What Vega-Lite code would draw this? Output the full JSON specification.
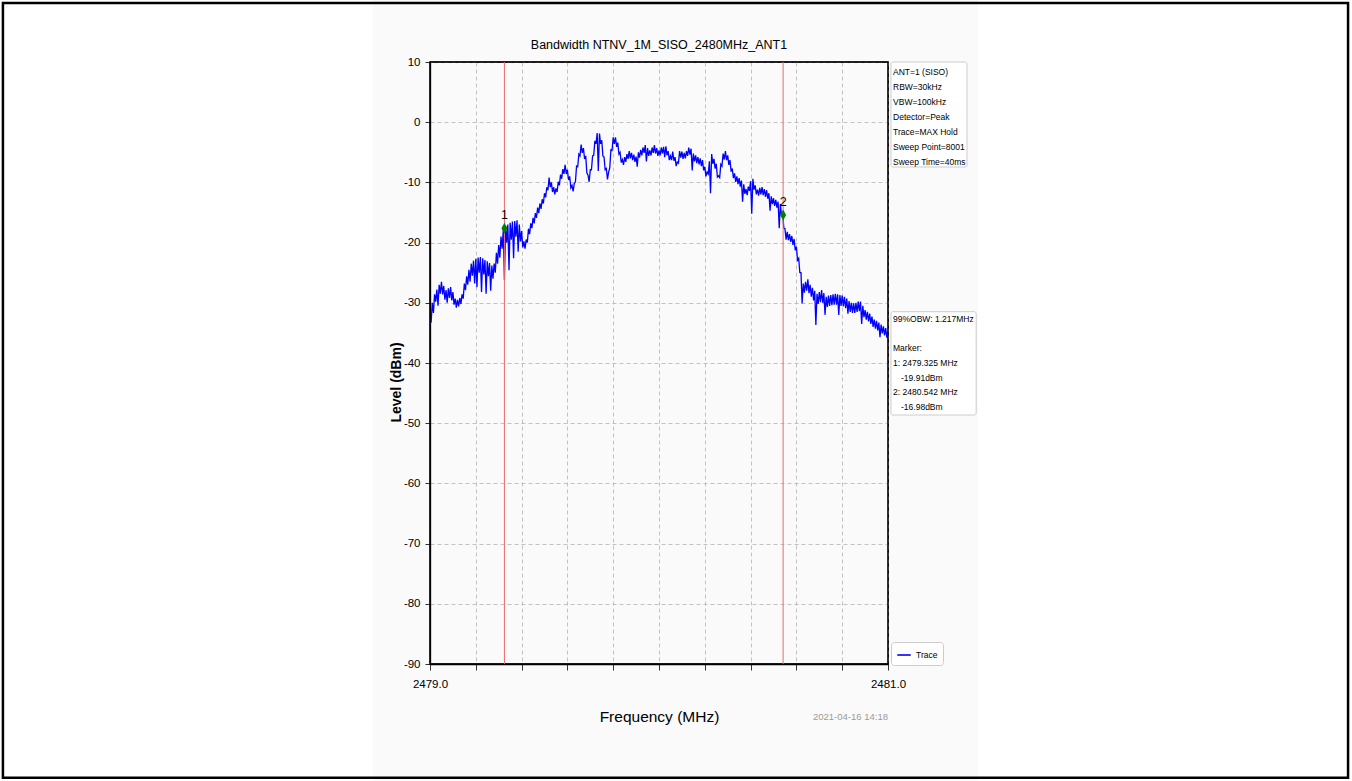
{
  "$schema": "https://vega.github.io/schema/vega-lite/v6.json",
  "width": 458,
  "height": 602,
  "autosize": {"type": "none"},
  "padding": {"left": 430, "top": 62, "right": 464, "bottom": 117},
  "background": "#fafafa",
  "config": {
    "view": {"stroke": "#000000", "strokeWidth": 1.3, "fill": "#fafafa"},
    "axis": {
      "gridColor": "#b4b4b4",
      "gridDash": [4, 3],
      "gridWidth": 0.8,
      "domainColor": "#000000",
      "domainWidth": 1.3,
      "tickColor": "#333333",
      "tickSize": 5,
      "labelFont": "Liberation Sans, Arial, sans-serif",
      "labelFontSize": 11.5,
      "labelColor": "#000000",
      "titleColor": "#000000"
    }
  },
  "datasets": {
    "trace": [
      {"f":2479.000,"v":-33.4},{"f":2479.005,"v":-33.2},{"f":2479.010,"v":-30.0},{"f":2479.015,"v":-31.7},{"f":2479.020,"v":-28.6},{"f":2479.025,"v":-29.8},
      {"f":2479.030,"v":-27.8},{"f":2479.035,"v":-30.5},{"f":2479.040,"v":-27.0},{"f":2479.045,"v":-28.5},{"f":2479.050,"v":-26.5},{"f":2479.055,"v":-28.6},
      {"f":2479.060,"v":-27.2},{"f":2479.065,"v":-29.5},{"f":2479.070,"v":-27.9},{"f":2479.075,"v":-30.0},{"f":2479.080,"v":-27.6},{"f":2479.085,"v":-29.2},
      {"f":2479.090,"v":-27.4},{"f":2479.095,"v":-29.6},{"f":2479.100,"v":-28.2},{"f":2479.105,"v":-30.3},{"f":2479.110,"v":-29.3},{"f":2479.115,"v":-30.8},
      {"f":2479.120,"v":-29.5},{"f":2479.125,"v":-30.6},{"f":2479.130,"v":-29.2},{"f":2479.135,"v":-30.2},{"f":2479.140,"v":-28.6},{"f":2479.145,"v":-29.3},
      {"f":2479.150,"v":-26.8},{"f":2479.155,"v":-27.9},{"f":2479.160,"v":-25.6},{"f":2479.165,"v":-27.0},{"f":2479.170,"v":-24.5},{"f":2479.175,"v":-26.5},
      {"f":2479.180,"v":-23.5},{"f":2479.185,"v":-25.5},{"f":2479.190,"v":-23.0},{"f":2479.195,"v":-26.8},{"f":2479.200,"v":-22.7},{"f":2479.205,"v":-27.4},
      {"f":2479.210,"v":-22.5},{"f":2479.215,"v":-25.0},{"f":2479.220,"v":-22.4},{"f":2479.225,"v":-28.2},{"f":2479.230,"v":-22.6},{"f":2479.235,"v":-25.3},
      {"f":2479.240,"v":-22.9},{"f":2479.245,"v":-28.5},{"f":2479.250,"v":-23.1},{"f":2479.255,"v":-25.6},{"f":2479.260,"v":-23.4},{"f":2479.265,"v":-28.0},
      {"f":2479.270,"v":-23.8},{"f":2479.275,"v":-26.0},{"f":2479.280,"v":-23.5},{"f":2479.285,"v":-25.0},{"f":2479.290,"v":-21.7},{"f":2479.295,"v":-23.5},
      {"f":2479.300,"v":-20.4},{"f":2479.305,"v":-22.5},{"f":2479.310,"v":-19.0},{"f":2479.315,"v":-21.0},{"f":2479.320,"v":-17.9},{"f":2479.325,"v":-26.2},
      {"f":2479.330,"v":-17.2},{"f":2479.335,"v":-20.0},{"f":2479.340,"v":-17.0},{"f":2479.345,"v":-24.6},{"f":2479.350,"v":-16.7},{"f":2479.355,"v":-19.5},
      {"f":2479.360,"v":-16.5},{"f":2479.365,"v":-22.6},{"f":2479.370,"v":-16.4},{"f":2479.375,"v":-19.0},{"f":2479.380,"v":-16.3},{"f":2479.385,"v":-21.5},
      {"f":2479.390,"v":-17.0},{"f":2479.395,"v":-19.8},{"f":2479.400,"v":-18.1},{"f":2479.405,"v":-20.8},{"f":2479.410,"v":-19.8},{"f":2479.415,"v":-21.0},
      {"f":2479.420,"v":-19.5},{"f":2479.425,"v":-20.0},{"f":2479.430,"v":-17.7},{"f":2479.435,"v":-18.6},{"f":2479.440,"v":-16.8},{"f":2479.445,"v":-17.6},
      {"f":2479.450,"v":-15.9},{"f":2479.455,"v":-16.8},{"f":2479.460,"v":-15.1},{"f":2479.465,"v":-15.9},{"f":2479.470,"v":-14.2},{"f":2479.475,"v":-15.1},
      {"f":2479.480,"v":-13.5},{"f":2479.485,"v":-14.4},{"f":2479.490,"v":-12.8},{"f":2479.495,"v":-13.5},{"f":2479.500,"v":-11.8},{"f":2479.505,"v":-12.5},
      {"f":2479.510,"v":-10.8},{"f":2479.515,"v":-11.3},{"f":2479.520,"v":-9.2},{"f":2479.525,"v":-10.8},{"f":2479.530,"v":-10.0},{"f":2479.535,"v":-11.6},
      {"f":2479.540,"v":-10.8},{"f":2479.545,"v":-12.0},{"f":2479.550,"v":-11.0},{"f":2479.555,"v":-11.6},{"f":2479.560,"v":-9.9},{"f":2479.565,"v":-10.5},
      {"f":2479.570,"v":-8.7},{"f":2479.575,"v":-9.4},{"f":2479.580,"v":-7.8},{"f":2479.585,"v":-8.6},{"f":2479.590,"v":-7.1},{"f":2479.595,"v":-8.6},
      {"f":2479.600,"v":-7.9},{"f":2479.605,"v":-9.6},{"f":2479.610,"v":-9.0},{"f":2479.615,"v":-10.9},{"f":2479.620,"v":-10.5},{"f":2479.625,"v":-11.5},
      {"f":2479.630,"v":-10.2},{"f":2479.635,"v":-9.9},{"f":2479.640,"v":-7.3},{"f":2479.645,"v":-7.4},{"f":2479.650,"v":-5.3},{"f":2479.655,"v":-5.6},
      {"f":2479.660,"v":-3.7},{"f":2479.665,"v":-5.1},{"f":2479.670,"v":-4.3},{"f":2479.675,"v":-6.1},{"f":2479.680,"v":-5.6},{"f":2479.685,"v":-8.4},
      {"f":2479.690,"v":-8.8},{"f":2479.695,"v":-9.9},{"f":2479.700,"v":-7.9},{"f":2479.705,"v":-7.9},{"f":2479.710,"v":-5.6},{"f":2479.715,"v":-5.5},
      {"f":2479.720,"v":-3.1},{"f":2479.725,"v":-3.6},{"f":2479.730,"v":-1.8},{"f":2479.735,"v":-8.1},{"f":2479.740,"v":-1.9},{"f":2479.745,"v":-3.6},
      {"f":2479.750,"v":-3.0},{"f":2479.755,"v":-5.6},{"f":2479.760,"v":-5.8},{"f":2479.765,"v":-7.9},{"f":2479.770,"v":-7.7},{"f":2479.775,"v":-9.5},
      {"f":2479.780,"v":-8.3},{"f":2479.785,"v":-7.6},{"f":2479.790,"v":-4.6},{"f":2479.795,"v":-4.7},{"f":2479.800,"v":-2.5},{"f":2479.805,"v":-3.6},
      {"f":2479.810,"v":-2.5},{"f":2479.815,"v":-4.1},{"f":2479.820,"v":-3.4},{"f":2479.825,"v":-5.3},{"f":2479.830,"v":-5.0},{"f":2479.835,"v":-6.7},
      {"f":2479.840,"v":-6.2},{"f":2479.845,"v":-7.1},{"f":2479.850,"v":-5.8},{"f":2479.855,"v":-6.6},{"f":2479.860,"v":-5.3},{"f":2479.865,"v":-6.1},
      {"f":2479.870,"v":-4.8},{"f":2479.875,"v":-6.0},{"f":2479.880,"v":-5.1},{"f":2479.885,"v":-6.3},{"f":2479.890,"v":-5.4},{"f":2479.895,"v":-6.6},
      {"f":2479.900,"v":-5.7},{"f":2479.905,"v":-7.4},{"f":2479.910,"v":-5.0},{"f":2479.915,"v":-5.9},{"f":2479.920,"v":-4.6},{"f":2479.925,"v":-5.5},
      {"f":2479.930,"v":-4.2},{"f":2479.935,"v":-5.1},{"f":2479.940,"v":-3.8},{"f":2479.945,"v":-6.5},{"f":2479.950,"v":-4.3},{"f":2479.955,"v":-5.6},
      {"f":2479.960,"v":-4.7},{"f":2479.965,"v":-5.5},{"f":2479.970,"v":-4.2},{"f":2479.975,"v":-5.1},{"f":2479.980,"v":-3.8},{"f":2479.985,"v":-5.2},
      {"f":2479.990,"v":-4.3},{"f":2479.995,"v":-5.6},{"f":2480.000,"v":-4.7},{"f":2480.005,"v":-5.5},{"f":2480.010,"v":-4.2},{"f":2480.015,"v":-5.2},
      {"f":2480.020,"v":-4.1},{"f":2480.025,"v":-5.8},{"f":2480.030,"v":-4.0},{"f":2480.035,"v":-5.5},{"f":2480.040,"v":-4.8},{"f":2480.045,"v":-6.3},
      {"f":2480.050,"v":-5.6},{"f":2480.055,"v":-6.3},{"f":2480.060,"v":-4.9},{"f":2480.065,"v":-6.4},{"f":2480.070,"v":-5.8},{"f":2480.075,"v":-7.3},
      {"f":2480.080,"v":-6.6},{"f":2480.085,"v":-6.8},{"f":2480.090,"v":-4.8},{"f":2480.095,"v":-5.9},{"f":2480.100,"v":-4.9},{"f":2480.105,"v":-6.1},
      {"f":2480.110,"v":-5.1},{"f":2480.115,"v":-6.0},{"f":2480.120,"v":-4.8},{"f":2480.125,"v":-5.6},{"f":2480.130,"v":-4.2},{"f":2480.135,"v":-5.4},
      {"f":2480.140,"v":-4.4},{"f":2480.145,"v":-8.0},{"f":2480.150,"v":-5.2},{"f":2480.155,"v":-6.5},{"f":2480.160,"v":-5.5},{"f":2480.165,"v":-6.8},
      {"f":2480.170,"v":-5.8},{"f":2480.175,"v":-7.0},{"f":2480.180,"v":-6.0},{"f":2480.185,"v":-7.3},{"f":2480.190,"v":-6.3},{"f":2480.195,"v":-8.0},
      {"f":2480.200,"v":-7.4},{"f":2480.205,"v":-9.0},{"f":2480.210,"v":-8.3},{"f":2480.215,"v":-8.6},{"f":2480.220,"v":-6.5},{"f":2480.225,"v":-11.8},
      {"f":2480.230,"v":-5.3},{"f":2480.235,"v":-6.9},{"f":2480.240,"v":-6.1},{"f":2480.245,"v":-7.7},{"f":2480.250,"v":-6.9},{"f":2480.255,"v":-9.1},
      {"f":2480.260,"v":-8.9},{"f":2480.265,"v":-9.2},{"f":2480.270,"v":-7.0},{"f":2480.275,"v":-7.3},{"f":2480.280,"v":-5.2},{"f":2480.285,"v":-6.2},
      {"f":2480.290,"v":-4.8},{"f":2480.295,"v":-6.3},{"f":2480.300,"v":-5.5},{"f":2480.305,"v":-7.1},{"f":2480.310,"v":-6.3},{"f":2480.315,"v":-8.2},
      {"f":2480.320,"v":-7.7},{"f":2480.325,"v":-9.3},{"f":2480.330,"v":-8.5},{"f":2480.335,"v":-9.9},{"f":2480.340,"v":-9.0},{"f":2480.345,"v":-10.3},
      {"f":2480.350,"v":-9.3},{"f":2480.355,"v":-10.7},{"f":2480.360,"v":-9.7},{"f":2480.365,"v":-13.2},{"f":2480.370,"v":-10.3},{"f":2480.375,"v":-11.9},
      {"f":2480.380,"v":-11.1},{"f":2480.385,"v":-12.1},{"f":2480.390,"v":-10.7},{"f":2480.395,"v":-11.4},{"f":2480.400,"v":-9.8},{"f":2480.405,"v":-15.2},
      {"f":2480.410,"v":-9.4},{"f":2480.415,"v":-11.2},{"f":2480.420,"v":-10.5},{"f":2480.425,"v":-12.0},{"f":2480.430,"v":-11.2},{"f":2480.435,"v":-12.2},
      {"f":2480.440,"v":-10.9},{"f":2480.445,"v":-12.0},{"f":2480.450,"v":-10.8},{"f":2480.455,"v":-12.1},{"f":2480.460,"v":-11.1},{"f":2480.465,"v":-12.4},
      {"f":2480.470,"v":-11.3},{"f":2480.475,"v":-12.7},{"f":2480.480,"v":-11.8},{"f":2480.485,"v":-14.7},{"f":2480.490,"v":-12.3},{"f":2480.495,"v":-13.6},
      {"f":2480.500,"v":-12.6},{"f":2480.505,"v":-13.9},{"f":2480.510,"v":-12.9},{"f":2480.515,"v":-14.2},{"f":2480.520,"v":-13.2},{"f":2480.525,"v":-17.6},
      {"f":2480.530,"v":-13.6},{"f":2480.535,"v":-15.5},{"f":2480.540,"v":-15.0},{"f":2480.545,"v":-17.6},{"f":2480.550,"v":-17.7},{"f":2480.555,"v":-19.5},
      {"f":2480.560,"v":-18.2},{"f":2480.565,"v":-19.6},{"f":2480.570,"v":-18.6},{"f":2480.575,"v":-19.9},{"f":2480.580,"v":-18.9},{"f":2480.585,"v":-20.4},
      {"f":2480.590,"v":-19.4},{"f":2480.595,"v":-21.3},{"f":2480.600,"v":-20.7},{"f":2480.605,"v":-22.9},{"f":2480.610,"v":-22.6},{"f":2480.615,"v":-25.0},
      {"f":2480.620,"v":-25.0},{"f":2480.625,"v":-30.1},{"f":2480.630,"v":-26.8},{"f":2480.635,"v":-28.3},{"f":2480.640,"v":-26.5},{"f":2480.645,"v":-28.0},
      {"f":2480.650,"v":-26.1},{"f":2480.655,"v":-28.4},{"f":2480.660,"v":-27.0},{"f":2480.665,"v":-29.0},{"f":2480.670,"v":-27.5},{"f":2480.675,"v":-29.6},
      {"f":2480.680,"v":-28.0},{"f":2480.685,"v":-33.7},{"f":2480.690,"v":-28.5},{"f":2480.695,"v":-30.2},{"f":2480.700,"v":-28.2},{"f":2480.705,"v":-29.9},
      {"f":2480.710,"v":-27.9},{"f":2480.715,"v":-30.0},{"f":2480.720,"v":-28.4},{"f":2480.725,"v":-32.0},{"f":2480.730,"v":-29.0},{"f":2480.735,"v":-30.7},
      {"f":2480.740,"v":-28.8},{"f":2480.745,"v":-30.5},{"f":2480.750,"v":-28.7},{"f":2480.755,"v":-30.4},{"f":2480.760,"v":-28.6},{"f":2480.765,"v":-30.3},
      {"f":2480.770,"v":-28.5},{"f":2480.775,"v":-30.3},{"f":2480.780,"v":-28.6},{"f":2480.785,"v":-32.0},{"f":2480.790,"v":-28.7},{"f":2480.795,"v":-30.5},
      {"f":2480.800,"v":-28.8},{"f":2480.805,"v":-30.6},{"f":2480.810,"v":-29.0},{"f":2480.815,"v":-30.9},{"f":2480.820,"v":-29.3},{"f":2480.825,"v":-31.8},
      {"f":2480.830,"v":-29.7},{"f":2480.835,"v":-31.5},{"f":2480.840,"v":-30.0},{"f":2480.845,"v":-31.7},{"f":2480.850,"v":-30.1},{"f":2480.855,"v":-31.7},
      {"f":2480.860,"v":-30.0},{"f":2480.865,"v":-31.5},{"f":2480.870,"v":-29.8},{"f":2480.875,"v":-31.4},{"f":2480.880,"v":-29.8},{"f":2480.885,"v":-33.5},
      {"f":2480.890,"v":-30.5},{"f":2480.895,"v":-32.4},{"f":2480.900,"v":-31.2},{"f":2480.905,"v":-32.8},{"f":2480.910,"v":-31.5},{"f":2480.915,"v":-33.1},
      {"f":2480.920,"v":-31.8},{"f":2480.925,"v":-33.5},{"f":2480.930,"v":-32.3},{"f":2480.935,"v":-34.0},{"f":2480.940,"v":-32.8},{"f":2480.945,"v":-34.3},
      {"f":2480.950,"v":-33.0},{"f":2480.955,"v":-34.6},{"f":2480.960,"v":-33.3},{"f":2480.965,"v":-35.7},{"f":2480.970,"v":-33.6},{"f":2480.975,"v":-35.1},
      {"f":2480.980,"v":-33.9},{"f":2480.985,"v":-35.4},{"f":2480.990,"v":-34.2},{"f":2480.995,"v":-35.8},{"f":2481.000,"v":-34.8}
    ],
    "markers": [
      {"m": "1", "f": 2479.325, "v": -17.6},
      {"m": "2", "f": 2480.542, "v": -15.4}
    ],
    "one": [{}]
  },
  "layer": [
    {
      "data": {"name": "trace"},
      "mark": {"type": "line", "strokeWidth": 1.3, "clip": true},
      "encoding": {
        "x": {
          "field": "f", "type": "quantitative",
          "scale": {"domain": [2479, 2481], "nice": false, "zero": false},
          "axis": {
            "values": [2479, 2479.2, 2479.4, 2479.6, 2479.8, 2480, 2480.2, 2480.4, 2480.6, 2480.8, 2481],
            "labelExpr": "datum.value == 2479 || datum.value == 2481 ? format(datum.value, '.1f') : ''",
            "labelFlush": false,
            "labelPadding": 8,
            "tickSize": 6,
            "title": "Frequency (MHz)",
            "titleFont": "Liberation Sans, Arial, sans-serif",
            "titleFontSize": 15.5,
            "titleFontWeight": "normal",
            "titleY": 52,
            "titleBaseline": "middle"
          }
        },
        "y": {
          "field": "v", "type": "quantitative",
          "scale": {"domain": [-90, 10], "nice": false, "zero": false},
          "axis": {
            "values": [-90, -80, -70, -60, -50, -40, -30, -20, -10, 0, 10],
            "labelExpr": "'' + datum.value",
            "labelFlush": false,
            "labelPadding": 5,
            "title": "Level (dBm)",
            "titleFont": "Liberation Sans, Arial, sans-serif",
            "titleFontSize": 14,
            "titleFontWeight": "bold",
            "titleX": -34,
            "titleY": 320,
            "titleAngle": -90,
            "titleAlign": "center",
            "titleBaseline": "middle"
          }
        },
        "color": {
          "datum": "Trace", "type": "nominal",
          "scale": {"range": ["#0000ff"]},
          "legend": {
            "orient": "none", "legendX": 461, "legendY": 580,
            "title": null,
            "symbolType": "stroke", "symbolStrokeWidth": 1.6, "symbolSize": 180,
            "labelFont": "Liberation Sans, Arial, sans-serif",
            "labelFontSize": 8.5, "labelColor": "#000000",
            "strokeColor": "#cccccc", "fillColor": "#ffffff",
            "padding": 5, "cornerRadius": 3
          }
        }
      }
    },
    {
      "data": {"name": "one"},
      "mark": {"type": "rect", "fill": "#ffffff", "clip": false},
      "encoding": {
        "x": {"datum": 2476.0, "type": "quantitative"},
        "x2": {"datum": 2478.751},
        "y": {"datum": 30, "type": "quantitative"},
        "y2": {"datum": -120}
      }
    },
    {
      "data": {"name": "one"},
      "mark": {"type": "rect", "fill": "#ffffff", "clip": false},
      "encoding": {
        "x": {"datum": 2481.393, "type": "quantitative"},
        "x2": {"datum": 2484.5},
        "y": {"datum": 30, "type": "quantitative"},
        "y2": {"datum": -120}
      }
    },
    {
      "data": {"name": "one"},
      "mark": {"type": "rect", "filled": false, "stroke": "#000000", "strokeWidth": 2.5, "clip": false},
      "encoding": {
        "x": {"datum": 2477.135, "type": "quantitative"},
        "x2": {"datum": 2483.009},
        "y": {"datum": 19.8, "type": "quantitative"},
        "y2": {"datum": -108.9}
      }
    },
    {
      "data": {"name": "one"},
      "mark": {"type": "rect", "filled": false, "stroke": "#000000", "strokeWidth": 1.3, "clip": false},
      "encoding": {
        "x": {"datum": 2479.0, "type": "quantitative"},
        "x2": {"datum": 2481.0},
        "y": {"datum": 10, "type": "quantitative"},
        "y2": {"datum": -90}
      }
    },
    {
      "data": {"values": [{"text": "Bandwidth NTNV_1M_SISO_2480MHz_ANT1"}]},
      "mark": {"type": "text", "align": "center", "baseline": "middle", "fontSize": 12.5, "font": "Liberation Sans, Arial, sans-serif", "color": "#000000", "clip": false},
      "encoding": {
        "x": {"datum": 2480.0, "type": "quantitative"},
        "y": {"datum": 12.8, "type": "quantitative"},
        "text": {"field": "text"}
      }
    },
    {
      "data": {"name": "markers"},
      "mark": {"type": "rule", "color": "#ee6a6a", "strokeWidth": 1},
      "encoding": {
        "x": {"field": "f", "type": "quantitative"}
      }
    },
    {
      "data": {"name": "markers"},
      "mark": {"type": "point", "shape": "M0,-1L0.55,0L0,1L-0.55,0Z", "filled": true, "color": "#008000", "size": 120, "opacity": 1},
      "encoding": {
        "x": {"field": "f", "type": "quantitative"},
        "y": {"field": "v", "type": "quantitative"}
      }
    },
    {
      "data": {"name": "markers"},
      "mark": {"type": "text", "fontSize": 12.5, "font": "Liberation Sans, Arial, sans-serif", "color": "#000000", "dy": -13, "baseline": "middle", "align": "center"},
      "encoding": {
        "x": {"field": "f", "type": "quantitative"},
        "y": {"field": "v", "type": "quantitative"},
        "text": {"field": "m"}
      }
    },
    {
      "data": {"name": "one"},
      "mark": {"type": "rect", "fill": "#ffffff", "stroke": "#cccccc", "strokeWidth": 1, "cornerRadius": 2, "clip": false},
      "encoding": {
        "x": {"datum": 2481.013, "type": "quantitative"},
        "x2": {"datum": 2481.345},
        "y": {"datum": 10, "type": "quantitative"},
        "y2": {"datum": -7.44}
      }
    },
    {
      "data": {"values": [{"text": "ANT=1 (SISO)\nRBW=30kHz\nVBW=100kHz\nDetector=Peak\nTrace=MAX Hold\nSweep Point=8001\nSweep Time=40ms"}]},
      "mark": {"type": "text", "align": "left", "baseline": "top", "lineBreak": "\n", "lineHeight": 15, "fontSize": 8.5, "font": "Liberation Sans, Arial, sans-serif", "color": "#000000", "clip": false},
      "encoding": {
        "x": {"datum": 2481.022, "type": "quantitative"},
        "y": {"datum": 9.0, "type": "quantitative"},
        "text": {"field": "text"}
      }
    },
    {
      "data": {"name": "one"},
      "mark": {"type": "rect", "fill": "#ffffff", "stroke": "#cccccc", "strokeWidth": 1, "cornerRadius": 2, "clip": false},
      "encoding": {
        "x": {"datum": 2481.013, "type": "quantitative"},
        "x2": {"datum": 2481.385},
        "y": {"datum": -31.48, "type": "quantitative"},
        "y2": {"datum": -48.64}
      }
    },
    {
      "data": {"values": [{"text": "99%OBW: 1.217MHz"}]},
      "mark": {"type": "text", "align": "left", "baseline": "middle", "fontSize": 8.5, "font": "Liberation Sans, Arial, sans-serif", "color": "#000000", "clip": false},
      "encoding": {
        "x": {"datum": 2481.022, "type": "quantitative"},
        "y": {"datum": -32.7, "type": "quantitative"},
        "text": {"field": "text"}
      }
    },
    {
      "data": {"values": [{"text": "Marker:"}]},
      "mark": {"type": "text", "align": "left", "baseline": "middle", "fontSize": 8.5, "font": "Liberation Sans, Arial, sans-serif", "color": "#000000", "clip": false},
      "encoding": {
        "x": {"datum": 2481.022, "type": "quantitative"},
        "y": {"datum": -37.5, "type": "quantitative"},
        "text": {"field": "text"}
      }
    },
    {
      "data": {"values": [{"text": "1: 2479.325 MHz"}]},
      "mark": {"type": "text", "align": "left", "baseline": "middle", "fontSize": 8.5, "font": "Liberation Sans, Arial, sans-serif", "color": "#000000", "clip": false},
      "encoding": {
        "x": {"datum": 2481.022, "type": "quantitative"},
        "y": {"datum": -40.0, "type": "quantitative"},
        "text": {"field": "text"}
      }
    },
    {
      "data": {"values": [{"text": "-19.91dBm"}]},
      "mark": {"type": "text", "align": "left", "baseline": "middle", "fontSize": 8.5, "font": "Liberation Sans, Arial, sans-serif", "color": "#000000", "dx": 8, "clip": false},
      "encoding": {
        "x": {"datum": 2481.022, "type": "quantitative"},
        "y": {"datum": -42.5, "type": "quantitative"},
        "text": {"field": "text"}
      }
    },
    {
      "data": {"values": [{"text": "2: 2480.542 MHz"}]},
      "mark": {"type": "text", "align": "left", "baseline": "middle", "fontSize": 8.5, "font": "Liberation Sans, Arial, sans-serif", "color": "#000000", "clip": false},
      "encoding": {
        "x": {"datum": 2481.022, "type": "quantitative"},
        "y": {"datum": -44.9, "type": "quantitative"},
        "text": {"field": "text"}
      }
    },
    {
      "data": {"values": [{"text": "-16.98dBm"}]},
      "mark": {"type": "text", "align": "left", "baseline": "middle", "fontSize": 8.5, "font": "Liberation Sans, Arial, sans-serif", "color": "#000000", "dx": 8, "clip": false},
      "encoding": {
        "x": {"datum": 2481.022, "type": "quantitative"},
        "y": {"datum": -47.3, "type": "quantitative"},
        "text": {"field": "text"}
      }
    },
    {
      "data": {"values": [{"text": "2021-04-16 14:18"}]},
      "mark": {"type": "text", "align": "right", "baseline": "middle", "fontSize": 9.5, "font": "Liberation Sans, Arial, sans-serif", "color": "#9a9a9a", "clip": false},
      "encoding": {
        "x": {"datum": 2481.0, "type": "quantitative"},
        "y": {"datum": -98.8, "type": "quantitative"},
        "text": {"field": "text"}
      }
    }
  ]
}
